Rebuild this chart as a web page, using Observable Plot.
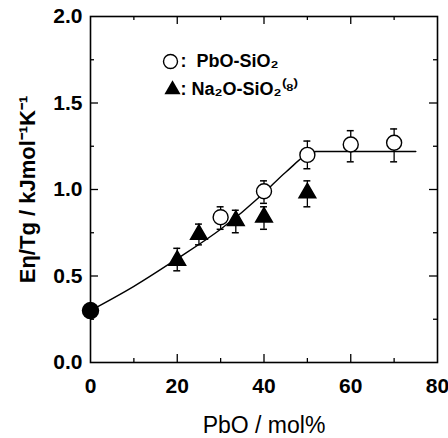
<!DOCTYPE html>
<html><head><meta charset="utf-8">
<script src="https://cdn.jsdelivr.net/npm/d3@7"></script>
<script src="https://cdn.jsdelivr.net/npm/@observablehq/plot@0.6"></script>
<style>body{margin:0;background:#fff}svg{font-family:"Liberation Sans",Arial,sans-serif}</style>
</head><body><div id="chart"></div>
<script>
// PbO-SiO2 (open circles)
const pbX = [30, 40, 50, 60, 70];
const pbY = [0.84, 0.99, 1.20, 1.26, 1.27];
const pbLo = [0.77, 0.92, 1.12, 1.16, 1.16];
const pbHi = [0.90, 1.05, 1.28, 1.34, 1.35];
// Na2O-SiO2 (filled triangles)
const naX = [20, 25, 33.5, 40, 50];
const naY = [0.59, 0.74, 0.82, 0.84, 0.98];
const naLo = [0.53, 0.68, 0.75, 0.77, 0.90];
const naHi = [0.66, 0.80, 0.88, 0.90, 1.05];
// SiO2 (filled circle)
const siX = [0];
const siY = [0.30];
// guide line
const fitX = [0, 10, 20, 30, 40, 45, 52, 75];
const fitY = [0.30, 0.44, 0.60, 0.77, 0.98, 1.10, 1.22, 1.22];
// ticks
const xTickLabels = [0, 20, 40, 60, 80];
const xMajor = [20, 40, 60];
const xMinor = [10, 30, 50, 70];
const yTickLabels = [0, 0.5, 1.0, 1.5, 2.0];
const yMajor = [0.5, 1.0, 1.5];
const yMinor = [0.25, 0.75, 1.25, 1.75];

const pb = pbX.map((x, i) => ({x, y: pbY[i], lo: pbLo[i], hi: pbHi[i]}));
const na = naX.map((x, i) => ({x, y: naY[i], lo: naLo[i], hi: naHi[i]}));
const si = siX.map((x, i) => ({x, y: siY[i]}));
const fit = fitX.map((x, i) => ({x, y: fitY[i]}));
const errs = [...pb, ...na];

const W = 448, H = 438, mL = 90, mR = 11, mT = 16, mB = 76;
const iw = W - mL - mR, ih = H - mT - mB;
const fs = 21;

const chart = Plot.plot({
  width: W, height: H,
  marginLeft: mL, marginRight: mR, marginTop: mT, marginBottom: mB,
  x: {domain: [0, 80]},
  y: {domain: [0, 2]},
  style: {fontFamily: '"Liberation Sans", Arial, sans-serif', color: "#000", background: "#fff"},
  marks: [
    Plot.frame({stroke: "#000", strokeWidth: 1.6}),
    Plot.axisX(xTickLabels, {tickSize: 0, tickPadding: 16, fontSize: fs, fontWeight: "bold", label: null}),
    Plot.axisY(yTickLabels, {tickSize: 0, tickPadding: 8, fontSize: fs, fontWeight: "bold", tickFormat: d3.format(".1f"), label: null}),
    Plot.tickX(xMajor, {x: d => d, insetTop: ih - 8, strokeWidth: 1.3}),
    Plot.tickX(xMajor, {x: d => d, insetBottom: ih - 8, strokeWidth: 1.3}),
    Plot.tickX(xMinor, {x: d => d, insetTop: ih - 4, strokeWidth: 1.3}),
    Plot.tickX(xMinor, {x: d => d, insetBottom: ih - 4, strokeWidth: 1.3}),
    Plot.tickY(yMajor, {y: d => d, insetRight: iw - 8, strokeWidth: 1.3}),
    Plot.tickY(yMajor, {y: d => d, insetLeft: iw - 8, strokeWidth: 1.3}),
    Plot.tickY(yMinor, {y: d => d, insetRight: iw - 4, strokeWidth: 1.3}),
    Plot.tickY(yMinor, {y: d => d, insetLeft: iw - 4, strokeWidth: 1.3}),
    Plot.line(fit, {x: "x", y: "y", stroke: "#000", strokeWidth: 1.4, curve: "monotone-x"}),
    Plot.ruleX(errs, {x: "x", y1: "lo", y2: "hi", stroke: "#000", strokeWidth: 1.3}),
    Plot.ruleY(errs, {y: "hi", x1: d => d.x - 0.8, x2: d => d.x + 0.8, stroke: "#000", strokeWidth: 1.5}),
    Plot.ruleY(errs, {y: "lo", x1: d => d.x - 0.8, x2: d => d.x + 0.8, stroke: "#000", strokeWidth: 1.5}),
    Plot.dot(na, {x: "x", y: "y", symbol: "triangle", r: 6.2, fill: "#000", stroke: "#000"}),
    Plot.dot(pb, {x: "x", y: "y", r: 7.5, fill: "#fff", stroke: "#000", strokeWidth: 1.4}),
    Plot.dot(si, {x: "x", y: "y", r: 8, fill: "#000", stroke: "#000"}),
    // legend
    Plot.dot([0], {frameAnchor: "top-left", dx: 80, dy: 45, r: 7, fill: "#fff", stroke: "#000", strokeWidth: 1.4}),
    Plot.dot([0], {frameAnchor: "top-left", dx: 82, dy: 73, symbol: "triangle", r: 6, fill: "#000"}),
    Plot.text([":  PbO-SiO₂"], {frameAnchor: "top-left", dx: 90, dy: 45, text: d => d, textAnchor: "start", lineAnchor: "middle", fontSize: 18, fontWeight: "bold"}),
    Plot.text([": Na₂O-SiO₂⁽⁸⁾"], {frameAnchor: "top-left", dx: 90, dy: 73, text: d => d, textAnchor: "start", lineAnchor: "middle", fontSize: 18, fontWeight: "bold"}),
    // axis titles
    Plot.text(["PbO / mol%"], {frameAnchor: "bottom", dy: 63, text: d => d, textAnchor: "middle", lineAnchor: "middle", fontSize: 23}),
    Plot.text(["Eη/Tg / kJmol⁻¹K⁻¹"], {frameAnchor: "left", dx: -63, rotate: -90, text: d => d, textAnchor: "middle", lineAnchor: "middle", fontSize: 22, fontWeight: "bold"})
  ]
});
document.getElementById("chart").appendChild(chart);
</script>
</body></html>
